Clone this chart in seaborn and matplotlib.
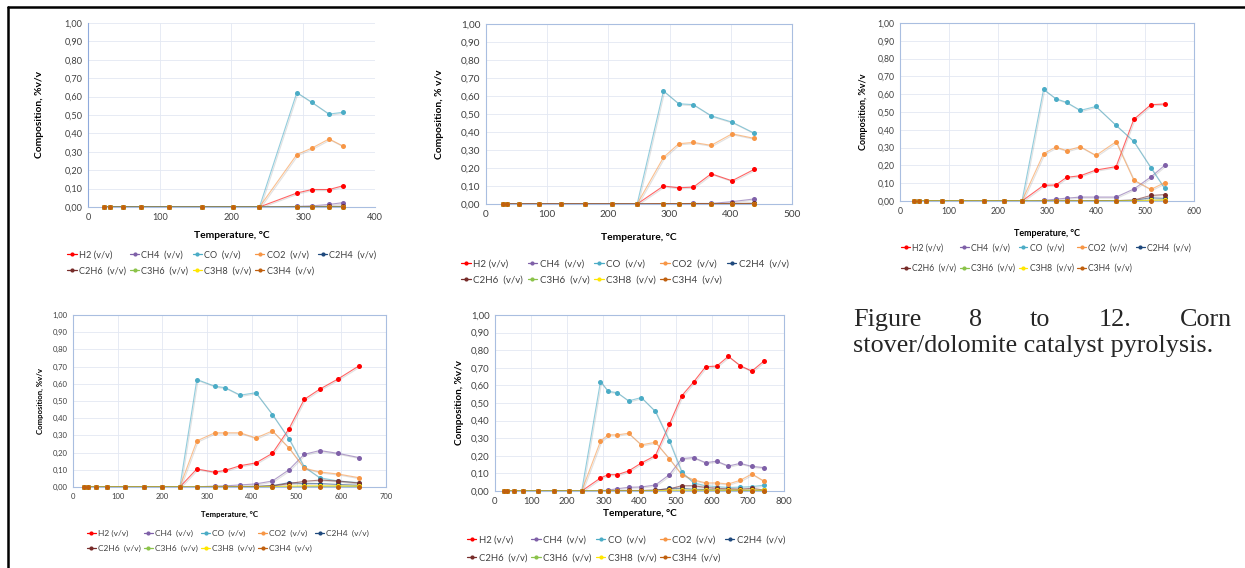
import matplotlib
matplotlib.use("Agg")
import matplotlib.pyplot as plt
import matplotlib.patheffects as pe
from matplotlib.lines import Line2D
from matplotlib.ticker import FuncFormatter, MultipleLocator
import seaborn as sns

GASES = ["H2", "CH4", "CO", "CO2", "C2H4", "C2H6", "C3H6", "C3H8", "C3H4"]
LABELS = ["H2 (v/v)", "CH4  (v/v)", "CO  (v/v)", "CO2  (v/v)", "C2H4  (v/v)",
          "C2H6  (v/v)", "C3H6  (v/v)", "C3H8  (v/v)", "C3H4  (v/v)"]
COLORS = ["#FF0000", "#7F60A8", "#4BACC6", "#F79646", "#1F497D",
          "#772C2A", "#8BC34A", "#FFE600", "#C0600F"]

Z8 = [0, 0, 0, 0, 0, 0, 0, 0]

# Figure 8
T1 = [22, 30, 49, 74, 113, 159, 202, 239, 291, 312, 336, 356]
P1 = {
    "H2":   Z8 + [0.076, 0.095, 0.095, 0.116],
    "CH4":  Z8 + [0.003, 0.006, 0.014, 0.024],
    "CO":   Z8 + [0.622, 0.569, 0.505, 0.515],
    "CO2":  Z8 + [0.285, 0.320, 0.370, 0.330],
    "C2H4": Z8 + [0.0, 0.0, 0.001, 0.002],
    "C2H6": Z8 + [0.001, 0.002, 0.003, 0.004],
    "C3H6": Z8 + [0.0, 0.0, 0.001, 0.001],
    "C3H8": Z8 + [0.0, 0.0, 0.0, 0.0],
    "C3H4": Z8 + [0.0, 0.0, 0.0, 0.0],
}

# Figure 9
T2 = [28, 35, 54, 86, 122, 162, 206, 247, 290, 315, 339, 368, 402, 438]
P2 = {
    "H2":   Z8 + [0.100, 0.090, 0.094, 0.168, 0.129, 0.192],
    "CH4":  Z8 + [0.001, 0.002, 0.003, 0.003, 0.013, 0.028],
    "CO":   Z8 + [0.628, 0.557, 0.552, 0.490, 0.455, 0.394],
    "CO2":  Z8 + [0.259, 0.335, 0.342, 0.326, 0.390, 0.365],
    "C2H4": Z8 + [0.0, 0.001, 0.001, 0.001, 0.002, 0.003],
    "C2H6": Z8 + [0.002, 0.002, 0.002, 0.002, 0.003, 0.004],
    "C3H6": Z8 + [0.0, 0.0, 0.0, 0.0, 0.0, 0.0],
    "C3H8": Z8 + [0.0, 0.0, 0.0, 0.0, 0.0, 0.0],
    "C3H4": Z8 + [0.002, 0.002, 0.002, 0.002, 0.002, 0.002],
}

# Figure 10
T3 = [28, 38, 53, 86, 125, 171, 212, 249, 293, 318, 340, 368, 400, 441, 477, 512, 540]
P3 = {
    "H2":   Z8 + [0.088, 0.090, 0.133, 0.142, 0.174, 0.193, 0.458, 0.541, 0.545],
    "CH4":  Z8 + [0.003, 0.010, 0.016, 0.022, 0.022, 0.022, 0.067, 0.135, 0.200],
    "CO":   Z8 + [0.627, 0.575, 0.554, 0.509, 0.531, 0.425, 0.335, 0.187, 0.071],
    "CO2":  Z8 + [0.266, 0.303, 0.283, 0.305, 0.256, 0.333, 0.118, 0.065, 0.103],
    "C2H4": Z8 + [0.0, 0.0, 0.001, 0.001, 0.002, 0.002, 0.004, 0.018, 0.015],
    "C2H6": Z8 + [0.0, 0.001, 0.002, 0.002, 0.002, 0.002, 0.005, 0.031, 0.036],
    "C3H6": Z8 + [0.0, 0.0, 0.0, 0.0, 0.0, 0.001, 0.002, 0.004, 0.006],
    "C3H8": Z8 + [0.0, 0.0, 0.0, 0.0, 0.0, 0.0, 0.001, 0.003, 0.006],
    "C3H4": Z8 + [0.0, 0.0, 0.0, 0.0, 0.0, 0.0, 0.0, 0.0, 0.0],
}

# Figure 11
T4 = [24, 33, 51, 77, 116, 158, 200, 239, 277, 317, 341, 374, 409, 446, 483, 517, 552, 592, 640]
P4 = {
    "H2":   Z8 + [0.105, 0.086, 0.097, 0.124, 0.140, 0.196, 0.338, 0.509, 0.569, 0.627, 0.705],
    "CH4":  Z8 + [0.001, 0.005, 0.007, 0.012, 0.018, 0.035, 0.100, 0.190, 0.212, 0.196, 0.171],
    "CO":   Z8 + [0.625, 0.586, 0.577, 0.534, 0.548, 0.421, 0.280, 0.117, 0.054, 0.035, 0.025],
    "CO2":  Z8 + [0.268, 0.315, 0.315, 0.315, 0.285, 0.326, 0.227, 0.110, 0.087, 0.076, 0.054],
    "C2H4": Z8 + [0.0, 0.0, 0.001, 0.002, 0.003, 0.008, 0.025, 0.020, 0.020, 0.015, 0.010],
    "C2H6": Z8 + [0.0, 0.001, 0.001, 0.002, 0.003, 0.006, 0.020, 0.033, 0.040, 0.035, 0.023],
    "C3H6": Z8 + [0.0, 0.0, 0.0, 0.0, 0.0, 0.001, 0.002, 0.002, 0.003, 0.003, 0.003],
    "C3H8": Z8 + [0.0, 0.0, 0.0, 0.0, 0.0, 0.002, 0.005, 0.008, 0.008, 0.007, 0.006],
    "C3H4": Z8 + [0.0, 0.0, 0.0, 0.0, 0.0, 0.0, 0.0, 0.0, 0.0, 0.0, 0.0],
}

# Figure 12
T5 = [24, 33, 52, 78, 119, 162, 205, 240, 292, 313, 339, 370, 405, 444, 483, 517,
      550, 583, 614, 646, 679, 711, 744]
P5 = {
    "H2":   Z8 + [0.074, 0.093, 0.093, 0.114, 0.159, 0.201, 0.381, 0.541, 0.620, 0.706,
                  0.710, 0.765, 0.712, 0.681, 0.738],
    "CH4":  Z8 + [0.001, 0.005, 0.013, 0.021, 0.023, 0.034, 0.093, 0.184, 0.190, 0.161,
                  0.169, 0.142, 0.157, 0.140, 0.133],
    "CO":   Z8 + [0.622, 0.567, 0.558, 0.512, 0.531, 0.452, 0.283, 0.108, 0.046, 0.030,
                  0.025, 0.020, 0.022, 0.025, 0.033],
    "CO2":  Z8 + [0.283, 0.319, 0.319, 0.328, 0.262, 0.277, 0.182, 0.093, 0.063, 0.046,
                  0.046, 0.040, 0.061, 0.097, 0.057],
    "C2H4": Z8 + [0.0, 0.0, 0.001, 0.002, 0.002, 0.004, 0.015, 0.015, 0.010, 0.008,
                  0.006, 0.005, 0.004, 0.004, 0.003],
    "C2H6": Z8 + [0.0, 0.001, 0.002, 0.003, 0.003, 0.005, 0.012, 0.030, 0.030, 0.020,
                  0.015, 0.012, 0.010, 0.015, 0.006],
    "C3H6": Z8 + [0.0, 0.0, 0.0, 0.0, 0.0, 0.001, 0.001, 0.002, 0.002, 0.002,
                  0.002, 0.002, 0.002, 0.002, 0.002],
    "C3H8": Z8 + [0.0, 0.0, 0.0, 0.0, 0.0, 0.002, 0.004, 0.005, 0.005, 0.005,
                  0.005, 0.005, 0.005, 0.005, 0.005],
    "C3H4": Z8 + [0.0] * 15,
}

YLABELS = ["Composition, %v/v", "Composition, % v/v", "Composition, %v/v",
           "Composition, %v/v", "Composition, %v/v"]

W, H = 1245, 568

# per panel: axes box in pixels (left, top, right, bottom), x max, tick/label/legend
# font sizes, legend centre (px), legend row gap, ylabel x, xlabel y
PANELS = [
    (T1, P1, (88, 23, 375, 207), 400, 6.6, 7.4, 6.6, (222, 263), 0.75, 40, 235),
    (T2, P2, (486, 24, 792, 204), 500, 7.2, 7.4, 7.0, (625, 272), 0.75, 440, 238),
    (T3, P3, (900, 23, 1194, 201), 600, 6.2, 6.5, 6.2, (1046, 258), 1.3, 863, 233),
    (T4, P4, (73, 315, 386, 487), 700, 5.5, 5.6, 6.0, (228, 541), 1.0, 40, 514),
    (T5, P5, (495, 315, 784, 491), 800, 6.8, 7.2, 6.8, (626, 549), 0.9, 459, 514),
]

sns.set_style("white")
plt.rcParams["font.family"] = ["Lato", "DejaVu Sans"]

fig = plt.figure(figsize=(W / 100, H / 100), dpi=100)
fig.patch.set_facecolor("white")

shadow = [pe.SimpleLineShadow(offset=(0.8, -0.8), shadow_color="#888888", alpha=0.25),
          pe.Normal()]

for i, (temps, series, box, xmax, tfs, lfs, gfs, lc, lsp, ylx, xly) in enumerate(PANELS):
    l, t, r, b = box
    ax = fig.add_axes([l / W, 1 - b / H, (r - l) / W, (b - t) / H])
    ax.set_facecolor("white")
    for g, c in zip(GASES, COLORS):
        sns.lineplot(x=temps, y=series[g], color=c, lw=0.8, alpha=0.6,
                     estimator=None, sort=False, ax=ax, legend=False,
                     path_effects=shadow)
        sns.scatterplot(x=temps, y=series[g], color=c, s=13, linewidth=0,
                        ax=ax, legend=False, clip_on=False, zorder=5)
    ax.set_xlim(0, xmax)
    ax.set_ylim(0, 1.0)
    ax.xaxis.set_major_locator(MultipleLocator(100))
    ax.yaxis.set_major_locator(MultipleLocator(0.1))
    ax.yaxis.set_major_formatter(FuncFormatter(lambda v, p: f"{v:.2f}".replace(".", ",")))
    ax.grid(True, color="#E3E8F3", lw=0.6)
    ax.set_axisbelow(True)
    for side, sp in ax.spines.items():
        sp.set_color("#A9BEE0")
        sp.set_linewidth(0.8)
    if i == 0:
        ax.spines["top"].set_visible(False)
        ax.spines["right"].set_visible(False)
        ax.spines["left"].set_color("#8FAADC")
    ax.tick_params(length=0, labelsize=tfs, colors="#404040", pad=4)
    ax.set_xlabel("")
    ax.set_ylabel("")
    fig.text(ylx / W, 1 - ((t + b) / 2) / H, YLABELS[i], rotation=90,
             ha="center", va="center", fontsize=lfs, fontweight="bold", color="#000000")
    fig.text(((l + r) / 2) / W, 1 - xly / H, "Temperature, °C",
             ha="center", va="center", fontsize=lfs, fontweight="bold", color="#000000")

    handles = [Line2D([0], [0], color=c, lw=0.9, marker="o", markersize=3,
                      markeredgewidth=0) for c in COLORS]
    order = [0, 5, 1, 6, 2, 7, 3, 8, 4]
    leg = ax.legend([handles[k] for k in order], [LABELS[k] for k in order],
                    ncol=5, loc="center", bbox_to_anchor=(lc[0] / W, 1 - lc[1] / H),
                    bbox_transform=fig.transFigure, frameon=False, fontsize=gfs,
                    handlelength=1.0, handletextpad=0.25, columnspacing=0.45,
                    labelspacing=lsp, borderpad=0)
    for txt in leg.get_texts():
        txt.set_color("#404040")

# caption, set justified like the source page
cap = dict(fontsize=18.8, family=["Liberation Serif", "DejaVu Serif"], va="baseline")
y1 = 1 - 326 / H
fig.text(853 / W, y1, "Figure", ha="left", **cap)
fig.text(976 / W, y1, "8", ha="center", **cap)
fig.text(1040 / W, y1, "to", ha="center", **cap)
fig.text(1115 / W, y1, "12.", ha="center", **cap)
fig.text(1232 / W, y1, "Corn", ha="right", **cap)
fig.text(853 / W, 1 - 352 / H, "stover/dolomite catalyst pyrolysis.", ha="left", **cap)

# page borders
fig.add_artist(Line2D([8 / W, 1.0], [1 - 7 / H, 1 - 7 / H], color="black", lw=1.8,
                      transform=fig.transFigure))
fig.add_artist(Line2D([8 / W, 8 / W], [1 - 7 / H, 0], color="black", lw=1.8,
                      transform=fig.transFigure))

fig.savefig("out.png", dpi=100)
